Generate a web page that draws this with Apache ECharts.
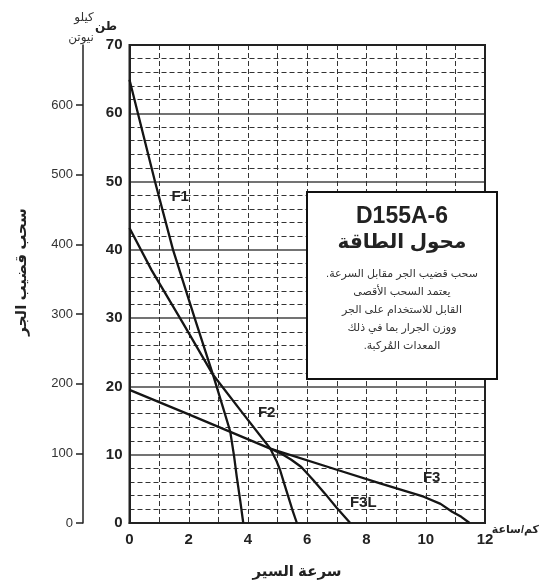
<!DOCTYPE html>
<html>
<head>
<meta charset="utf-8">
<script src="https://cdn.jsdelivr.net/npm/echarts@6/dist/echarts.min.js"></script>
<style>html,body{margin:0;padding:0;background:#fff}#c{width:539px;height:580px;direction:rtl}</style>
</head>
<body>
<div id="c"></div>
<script>
// Data (speed km/h, drawbar pull in tons)
var f1Speed = [0, 0.86, 1.47, 2.2, 2.82, 3.15, 3.40, 3.53, 3.62, 3.74, 3.84];
var f1Pull  = [64.9, 50, 40, 30, 21.7, 17, 13.4, 9.8, 6.8, 3.2, 0];
var f2Speed = [0, 0.75, 1.8, 2.82, 3.8, 4.75, 4.95, 5.08, 5.22, 5.36, 5.5, 5.65];
var f2Pull  = [43.2, 37.0, 29.3, 21.7, 16.2, 10.9, 9.2, 7.8, 5.8, 3.85, 1.9, 0];
var f3Speed = [0, 2, 4.75, 7, 8.46, 9.93, 10.5, 10.89, 11.2, 11.48];
var f3Pull  = [19.5, 15.9, 10.9, 7.8, 5.8, 3.85, 2.8, 1.65, 0.9, 0];
var f3lSpeed = [4.75, 5.1, 5.45, 5.8, 6.2, 6.6, 7.0, 7.45];
var f3lPull  = [10.9, 10.2, 9.3, 8.2, 6.3, 4.3, 2.2, 0];
var curveNames = ['F1', 'F2', 'F3', 'F3L'];
var labelSpeed = [1.71, 4.63, 10.2, 7.89];
var labelPull  = [47.7, 16.1, 6.6, 2.9];
var tonTicks = [0, 10, 20, 30, 40, 50, 60, 70];
var kNTicks = [0, 100, 200, 300, 400, 500, 600];
var speedTicks = [0, 2, 4, 6, 8, 10, 12];
var boxTitle = 'D155A-6';
var boxSubtitle = 'محول الطاقة';
var boxLines = ['سحب قضيب الجر مقابل السرعة.', 'يعتمد السحب الأقصى', 'القابل للاستخدام على الجر', 'ووزن الجرار بما في ذلك', 'المعدات المُركبة.'];

function zip(a, b) { return a.map(function (v, i) { return [v, b[i]]; }); }
var FF = '"Liberation Sans", Arial, "DejaVu Sans", sans-serif';
var lineColor = '#151515';
function curve(name, xs, ys) {
  return { name: name, type: 'line', data: zip(xs, ys), symbol: 'none', smooth: false,
    lineStyle: { color: lineColor, width: 2.3 }, z: 3, silent: true };
}
var chart = echarts.init(document.getElementById('c'), null, { renderer: 'canvas' });
var dash = [5, 3];
var staticGraphics = [
  { type: 'rect', shape: { x: 307, y: 192, width: 190, height: 187 }, style: { fill: '#fff', stroke: '#111', lineWidth: 2 }, z: 10 },
  { type: 'text', x: 402, y: 217, z: 11, style: { text: boxTitle, font: 'bold 23px ' + FF, fill: '#222', textAlign: 'center', textVerticalAlign: 'middle' } },
  { type: 'text', x: 402, y: 242, z: 11, style: { text: boxSubtitle, font: 'bold 20px ' + FF, fill: '#222', textAlign: 'center', textVerticalAlign: 'middle' } }
].concat(boxLines.map(function (t, i) {
  return { type: 'text', x: 402, y: 274 + i * 18, z: 11, style: { text: t, font: '11px ' + FF, fill: '#333', textAlign: 'center', textVerticalAlign: 'middle' } };
})).concat([
  { type: 'text', x: 84, y: 18, style: { text: 'كيلو', font: '12px ' + FF, fill: '#333', textAlign: 'center', textVerticalAlign: 'middle' } },
  { type: 'text', x: 81, y: 38, style: { text: 'نيوتن', font: '12px ' + FF, fill: '#333', textAlign: 'center', textVerticalAlign: 'middle' } },
  { type: 'text', x: 106, y: 27, style: { text: 'طن', font: 'bold 12px ' + FF, fill: '#222', textAlign: 'center', textVerticalAlign: 'middle' } },
  { type: 'text', x: 539, y: 530, style: { text: 'كم/ساعة', font: 'bold 11px ' + FF, fill: '#222', textAlign: 'right', textVerticalAlign: 'middle' } },
  { type: 'text', x: 297, y: 572, style: { text: 'سرعة السير', font: 'bold 15px ' + FF, fill: '#222', textAlign: 'center', textVerticalAlign: 'middle' } },
  { type: 'text', x: 22, y: 272, rotation: Math.PI / 2, style: { text: 'سحب قضيب الجر', font: 'bold 15px ' + FF, fill: '#222', textAlign: 'center', textVerticalAlign: 'middle' } }
]);
var option = {
  animation: false,
  backgroundColor: '#fff',
  grid: { left: 129.5, right: 54, top: 45, bottom: 57, show: true, borderColor: '#222', borderWidth: 2, backgroundColor: 'transparent', z: 2 },
  xAxis: {
    type: 'value', min: 0, max: 12, interval: 2,
    axisLine: { show: true, lineStyle: { color: '#222', width: 2 } },
    axisTick: { show: false },
    axisLabel: { fontFamily: FF, fontWeight: 'bold', fontSize: 15, color: '#222', margin: 9,
      customValues: speedTicks },
    splitLine: { show: true, lineStyle: { color: '#333', type: dash, width: 1 } },
    minorTick: { show: false, splitNumber: 2 },
    minorSplitLine: { show: true, lineStyle: { color: '#333', type: dash, width: 1 } }
  },
  yAxis: [{
    type: 'value', min: 0, max: 70, interval: 10, position: 'left',
    axisLine: { show: true, lineStyle: { color: '#222', width: 2 } },
    axisTick: { show: false },
    axisLabel: { fontFamily: FF, fontWeight: 'bold', fontSize: 15, color: '#222', margin: 7,
      customValues: tonTicks },
    splitLine: { show: true, lineStyle: { color: '#444', width: 1.5 } },
    minorTick: { show: false, splitNumber: 5 },
    minorSplitLine: { show: true, lineStyle: { color: '#333', type: dash, width: 1 } }
  }, {
    type: 'value', min: 0, max: 70 * 9.80665, position: 'left', offset: 46.5,
    axisLine: { show: true, lineStyle: { color: '#222', width: 1.5 } },
    axisTick: { show: true, length: 7, lineStyle: { color: '#222', width: 1.5 }, customValues: kNTicks },
    axisLabel: { fontFamily: FF, fontSize: 13, color: '#333', margin: 10, customValues: kNTicks },
    splitLine: { show: false }
  }],
  series: [
    curve('F1', f1Speed, f1Pull),
    curve('F2', f2Speed, f2Pull),
    curve('F3', f3Speed, f3Pull),
    curve('F3L', f3lSpeed, f3lPull),
    { type: 'line', yAxisIndex: 1, data: [], silent: true }
  ],
  graphic: staticGraphics
};
chart.setOption(option);
// curve name labels, positioned through the chart's own scales
var labelGraphics = curveNames.map(function (n, i) {
  var p = chart.convertToPixel({ gridIndex: 0 }, [labelSpeed[i], labelPull[i]]);
  return { type: 'text', x: p[0], y: p[1], z: 5, style: { text: n, font: 'bold 15px ' + FF, fill: '#222', textAlign: 'center', textVerticalAlign: 'middle' } };
});
chart.setOption({ graphic: staticGraphics.concat(labelGraphics) });
</script>
</body>
</html>
